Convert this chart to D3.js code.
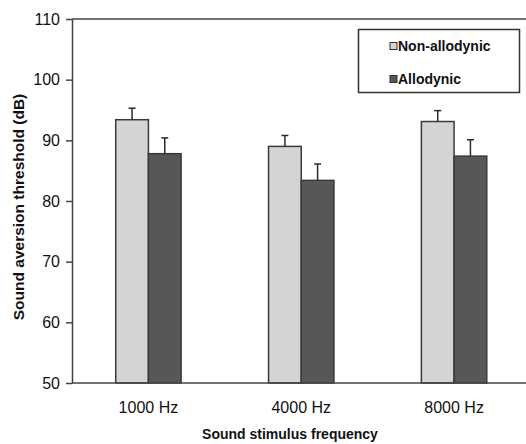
<!DOCTYPE html>
<html>
<head>
<meta charset="utf-8">
<script src="https://cdn.jsdelivr.net/npm/d3@7"></script>
<style>
  body { margin: 0; background: #fff; }
  svg { display: block; font-family: "Liberation Sans", Arial, sans-serif; }
</style>
</head>
<body>
<div id="chart"></div>
<script>
// data
const frequencies = ["1000 Hz", "4000 Hz", "8000 Hz"];
const groups = ["Non-allodynic", "Allodynic"];
const nonAllodynic = [93.4, 89.0, 93.1];
const nonAllodynicErr = [1.9, 1.8, 1.8];
const allodynic = [87.8, 83.4, 87.4];
const allodynicErr = [2.6, 2.7, 2.7];
const yTicks = [50, 60, 70, 80, 90, 100, 110];
const colors = ["#d4d4d4", "#575757"];

const W = 526, H = 444;
const plotLeft = 72, plotTop = 19, plotBottom = 383;

const rows = frequencies.map((f, i) => ({
  freq: f,
  vals: [
    {g: groups[0], v: nonAllodynic[i], e: nonAllodynicErr[i]},
    {g: groups[1], v: allodynic[i], e: allodynicErr[i]}
  ]
}));

const svg = d3.select("#chart").append("svg")
  .attr("width", W)
  .attr("height", H);

const x = d3.scaleBand().domain(frequencies).range([plotLeft, 530.5]);
const x1 = d3.scaleBand().domain(groups)
  .range([x.bandwidth() / 2 - 32.7, x.bandwidth() / 2 + 32.7]);
const y = d3.scaleLinear().domain([50, 110]).range([plotBottom, plotTop]);

// frame top line
svg.append("line")
  .attr("x1", plotLeft).attr("x2", W)
  .attr("y1", y(110)).attr("y2", y(110))
  .attr("stroke", "#444").attr("stroke-width", 1.5);

// bars
const g = svg.selectAll("g.grp").data(rows).enter().append("g")
  .attr("class", "grp")
  .attr("transform", d => `translate(${x(d.freq)},0)`);

g.selectAll("rect").data(d => d.vals).enter().append("rect")
  .attr("x", d => x1(d.g))
  .attr("y", d => y(d.v))
  .attr("width", x1.bandwidth())
  .attr("height", d => y(50) - y(d.v))
  .attr("fill", (d, i) => colors[i])
  .attr("stroke", "#3a3a3a")
  .attr("stroke-width", 1.5);

// error bars (upper only)
const eb = g.selectAll("g.err").data(d => d.vals).enter().append("g")
  .attr("class", "err")
  .attr("stroke", "#2a2a2a")
  .attr("stroke-width", 1.5);
eb.append("line")
  .attr("x1", d => x1(d.g) + x1.bandwidth() / 2)
  .attr("x2", d => x1(d.g) + x1.bandwidth() / 2)
  .attr("y1", d => y(d.v))
  .attr("y2", d => y(d.v + d.e));
eb.append("line")
  .attr("x1", d => x1(d.g) + x1.bandwidth() / 2 - 3.5)
  .attr("x2", d => x1(d.g) + x1.bandwidth() / 2 + 3.5)
  .attr("y1", d => y(d.v + d.e))
  .attr("y2", d => y(d.v + d.e));

// y axis
const yAxis = svg.append("g")
  .attr("transform", `translate(${plotLeft},0)`)
  .call(d3.axisLeft(y).tickValues(yTicks).tickSize(6).tickPadding(6).tickSizeOuter(0));
yAxis.attr("font-size", 16).attr("font-family", "Liberation Sans, Arial, sans-serif");
yAxis.select(".domain").attr("stroke", "#444").attr("stroke-width", 1.5);
yAxis.selectAll(".tick line").attr("stroke", "#444").attr("stroke-width", 1.5);
yAxis.selectAll("text").attr("fill", "#111");

// x axis
svg.append("line")
  .attr("x1", plotLeft).attr("x2", W)
  .attr("y1", y(50)).attr("y2", y(50))
  .attr("stroke", "#444").attr("stroke-width", 1.5);
const xAxis = svg.append("g")
  .attr("transform", `translate(0,${plotBottom})`)
  .call(d3.axisBottom(x).tickSize(0).tickPadding(19));
xAxis.attr("font-size", 16).attr("font-family", "Liberation Sans, Arial, sans-serif");
xAxis.select(".domain").remove();
xAxis.selectAll("text").attr("fill", "#111");

// axis titles
svg.append("text")
  .attr("transform", "translate(24,207) rotate(-90)")
  .attr("text-anchor", "middle")
  .attr("font-size", 15.5).attr("font-weight", "bold").attr("fill", "#111")
  .text("Sound aversion threshold (dB)");
svg.append("text")
  .attr("x", 290).attr("y", 439)
  .attr("text-anchor", "middle")
  .attr("font-size", 14).attr("font-weight", "bold").attr("fill", "#111")
  .text("Sound stimulus frequency");

// legend
const leg = svg.append("g");
leg.append("rect")
  .attr("x", 358.5).attr("y", 29.5)
  .attr("width", 161).attr("height", 63)
  .attr("fill", "#fff").attr("stroke", "#333").attr("stroke-width", 1.5);
const li = leg.selectAll("g.item").data(groups).enter().append("g")
  .attr("class", "item")
  .attr("transform", (d, i) => `translate(390,${46 + i * 33})`);
li.append("rect")
  .attr("x", 0).attr("y", -3.5).attr("width", 7).attr("height", 7)
  .attr("fill", (d, i) => colors[i])
  .attr("stroke", "#333").attr("stroke-width", 1);
li.append("text")
  .attr("x", 8).attr("y", 5)
  .attr("font-size", 14).attr("font-weight", "bold").attr("fill", "#111")
  .text(d => d);
</script>
</body>
</html>
